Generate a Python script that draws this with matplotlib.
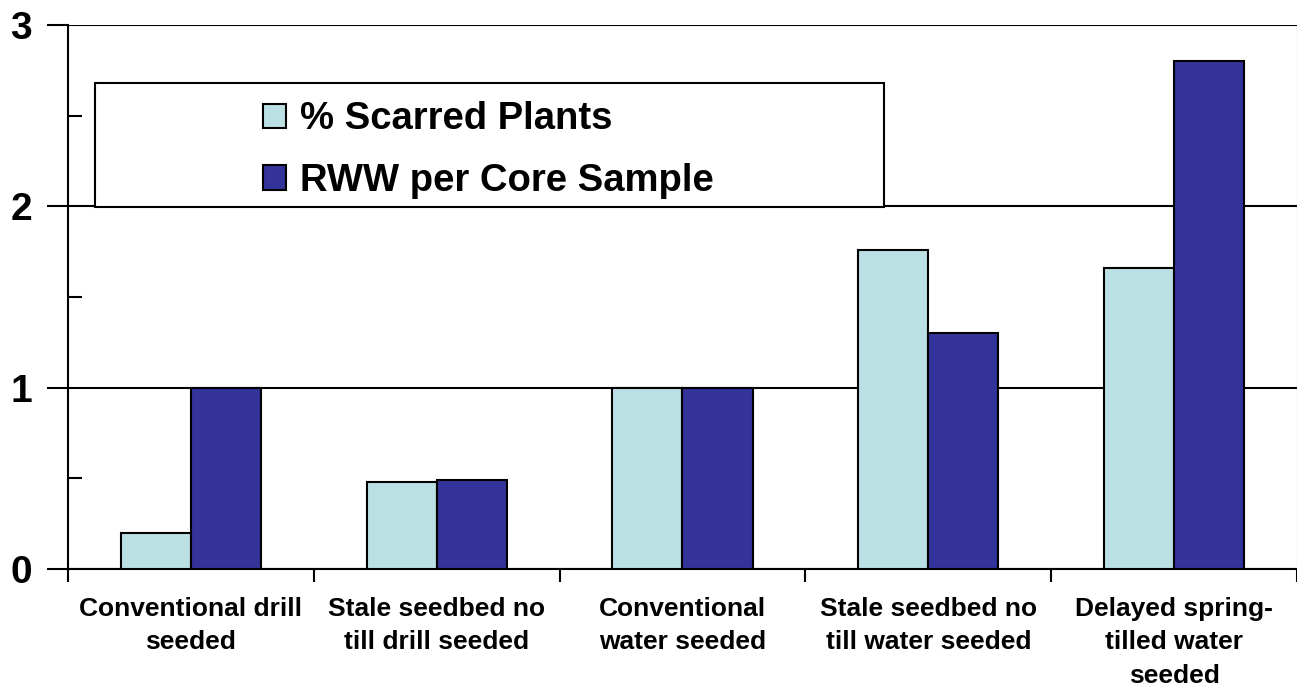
import matplotlib.pyplot as plt
import numpy as np
from matplotlib.patches import Rectangle

plt.rcParams['font.family'] = ['Liberation Sans', 'DejaVu Sans']
plt.rcParams['font.weight'] = 'bold'

# data
categories = ["Conventional drill\nseeded",
              "Stale seedbed no\ntill drill seeded",
              "Conventional\nwater seeded",
              "Stale seedbed no\ntill water seeded",
              "Delayed spring-\ntilled water\nseeded"]
scarred = [0.20, 0.48, 1.00, 1.76, 1.66]
rww = [1.00, 0.49, 1.00, 1.30, 2.80]
series_names = ["% Scarred Plants", "RWW per Core Sample"]
light = "#BBE0E3"
dark = "#333399"

fig = plt.figure(figsize=(12.97, 6.88), dpi=100)
ax = fig.add_axes([0.0524, 0.173, 0.9476, 0.7907])

x = np.arange(len(categories))
w = 0.285
ax.bar(x - w / 2, scarred, w, color=light, edgecolor="black", linewidth=1.5,
       label=series_names[0], zorder=3)
ax.bar(x + w / 2, rww, w, color=dark, edgecolor="black", linewidth=1.5,
       label=series_names[1], zorder=3)

ax.set_xlim(-0.5, len(categories) - 0.5)
ax.set_ylim(0, 3)

# gridlines at major y ticks
ax.set_yticks([0, 1, 2, 3])
ax.set_yticklabels(["0", "1", "2", "3"], fontsize=28, fontweight="bold")
ax.set_yticks([0.5, 1.5, 2.5], minor=True)
ax.yaxis.grid(True, color="black", linewidth=1.5, zorder=0)
ax.tick_params(axis="y", which="major", direction="out", length=15, width=1.5, pad=11)
ax.tick_params(axis="y", which="minor", direction="in", length=10, width=1.5)

# x: ticks at the category boundaries, labels at the centers
ax.set_xticks(np.arange(-0.5, len(categories)), labels=[""] * (len(categories) + 1))
ax.set_xticks(x, minor=True)
ax.set_xticklabels(categories, minor=True, fontsize=19, fontweight="bold", linespacing=1.5)
ax.tick_params(axis="x", which="major", direction="out", length=9, width=1.5)
ax.tick_params(axis="x", which="minor", length=0, pad=20)

ax.spines["top"].set_visible(False)
ax.spines["right"].set_color("#C8C8C8")
ax.spines["left"].set_linewidth(1.5)
ax.spines["bottom"].set_linewidth(1.5)

# legend box
bx0, bx1, by0, by1 = 0.022, 0.664, 0.665, 0.893
ax.add_patch(Rectangle((bx0, by0), bx1 - bx0, by1 - by0, transform=ax.transAxes,
                       facecolor="white", edgecolor="black", linewidth=1.5, zorder=4))
leg = ax.legend(loc="center", bbox_to_anchor=((bx0 + bx1) / 2 - 0.001, (by0 + by1) / 2 - 0.009),
                frameon=False, handlelength=0.6, handleheight=0.6,
                handletextpad=0.35, labelspacing=0.68,
                prop={"weight": "bold", "size": 27.5})
leg.set_zorder(5)
for p in leg.get_patches():
    p.set_edgecolor("black")
    p.set_linewidth(1.5)

fig.savefig("out.png", dpi=100)
